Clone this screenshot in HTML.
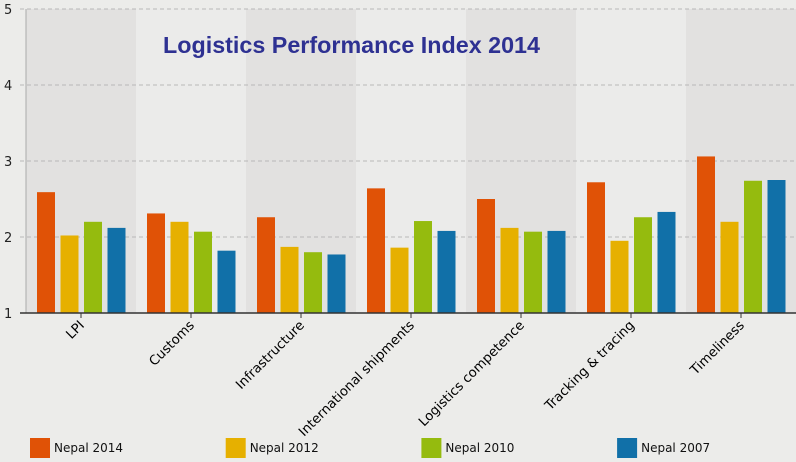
<!DOCTYPE html>
<html><head><meta charset="utf-8"><style>
body{margin:0;background:#ececea;}
svg{display:block;font-family:"DejaVu Sans","Liberation Sans",sans-serif;}
</style></head><body>
<svg id="c" width="796" height="462"></svg>
<script>
const categories=["LPI","Customs","Infrastructure","International shipments","Logistics competence","Tracking & tracing","Timeliness"];
const seriesNames=["Nepal 2014","Nepal 2012","Nepal 2010","Nepal 2007"];
const s2014=[2.59,2.31,2.26,2.64,2.50,2.72,3.06];
const s2012=[2.02,2.20,1.87,1.86,2.12,1.95,2.20];
const s2010=[2.20,2.07,1.80,2.21,2.07,2.26,2.74];
const s2007=[2.12,1.82,1.77,2.08,2.08,2.33,2.75];
const yTicks=[1,2,3,4,5];
const colors=["#e05206","#e6b000","#95bb0e","#1170a8"];
const series=[s2014,s2012,s2010,s2007];
const NS="http://www.w3.org/2000/svg";
const svg=document.getElementById('c');
function el(t,a,p){const e=document.createElementNS(NS,t);for(const k in a)e.setAttribute(k,a[k]);(p||svg).appendChild(e);return e;}
const x0=26,x1=796,yTop=9,yBot=313,band=110;
const y=v=>yBot-(v-1)/(5-1)*(yBot-yTop);
const bx=i=>x0+i*band;
categories.forEach((c,i)=>{
 const r=el('rect',{x:bx(i),y:yTop,width:band,height:yBot-yTop,fill:i%2?'#ebebea':'#e2e1e0'});
 
 
});
yTicks.forEach(t=>{
 const l=el('line',{x1:20,x2:x1,y1:y(t),y2:y(t),stroke:'#b8b8b8','stroke-dasharray':'4,3'});
 
 
 const tx=el('text',{x:4,y:y(t)+5,'font-size':13,fill:'#222'});tx.textContent=t;
 
 
});
el('line',{x1:x0,x2:x0,y1:yTop,y2:yBot,stroke:'#aaa'});
series.forEach((s,k)=>{
 s.forEach((v,i)=>{
  const r=el('rect',{x:bx(i)+11+k*23.5,y:y(v),width:18,height:yBot-y(v),fill:colors[k]});
  
  
 });
});
el('line',{x1:20,x2:x1,y1:yBot,y2:yBot,stroke:'#333','stroke-width':1.5});
categories.forEach((c,i)=>{
 const cx=bx(i)+band/2;
 el('line',{x1:cx,x2:cx,y1:yBot,y2:yBot+5,stroke:'#333'});
 const t=el('text',{x:cx+4,y:yBot+13,'font-size':13.2,fill:'#000','text-anchor':'end',transform:`rotate(-45 ${cx+4} ${yBot+13})`});
 t.textContent=c;
 
 
});
const title=el('text',{x:163,y:53,'font-size':23,'font-weight':'bold',fill:'#2e3192','font-family':'"Liberation Sans",sans-serif',textLength:377,lengthAdjust:'spacingAndGlyphs'});
title.textContent="Logistics Performance Index 2014";


seriesNames.forEach((n,k)=>{
 const g=el('g',{});
 
 
 const lx=30+k*195.7;
 el('rect',{x:lx,y:438,width:20,height:20,fill:colors[k]},g);
 const t=el('text',{x:lx+24,y:452,'font-size':12,fill:'#111'},g);t.textContent=n;
});
</script>
</body></html>
